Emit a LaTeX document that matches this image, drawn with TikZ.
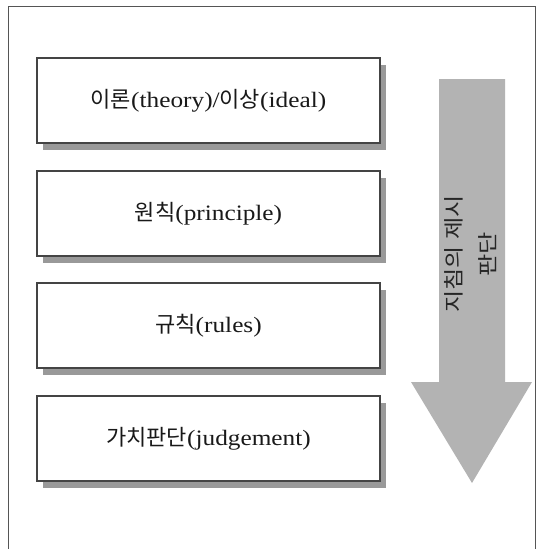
\documentclass[tikz,border=0pt]{standalone}
\usepackage{fontspec}
\setmainfont{Liberation Serif}[FakeStretch=1.15]
\newfontfamily\kr{Noto Sans CJK KR}
\newfontfamily\krwide{Noto Sans CJK KR}[FakeStretch=1.18]
\usetikzlibrary{shadows}
\definecolor{framegray}{HTML}{555555}
\definecolor{boxline}{HTML}{444444}
\definecolor{shadowgray}{HTML}{999999}
\definecolor{arrowgray}{HTML}{B3B3B3}
\newcommand{\hg}[1]{{\kr\fontsize{22}{24}\selectfont #1}}
\tikzset{
  stagebox/.style={draw=boxline, line width=2.2pt, fill=white, minimum width=343pt, minimum height=85pt,
    inner sep=0pt, font=\fontsize{22}{24}\selectfont, text=black!90,
    general shadow={shadow xshift=6pt, shadow yshift=-7pt, fill=shadowgray}},
  framestyle/.style={draw=framegray, line width=1pt},
  bigarrow/.style={fill=arrowgray, draw=none},
  arrowtext/.style={rotate=90, align=center, font=\krwide\fontsize{20.5}{34}\selectfont, text=black!85}
}
\begin{document}
\begin{tikzpicture}[x=1pt,y=-1pt]
\useasboundingbox (0,0) rectangle (545,549);
\draw[framestyle] (8,552) -- (8,6) -- (535,6) -- (535,552);
\node[stagebox] (b1) at (208.5,100.5) {\hg{이론}(theory)/\hg{이상}(ideal)};
\node[stagebox] (b2) at (208.5,213.5) {\hg{원칙}(principle)};
\node[stagebox] (b3) at (208.5,325.5) {\hg{규칙}(rules)};
\node[stagebox] (b4) at (208.5,438.5) {\hg{가치판단}(judgement)};
\fill[bigarrow] (439,79) -- (505,79) -- (505,382) -- (532,382) -- (472,483) -- (411,382) -- (439,382) -- cycle;
\node[arrowtext] (t) at (471,254) {지침의\hspace{0.3em}제시\\판단};
\end{tikzpicture}
\end{document}
